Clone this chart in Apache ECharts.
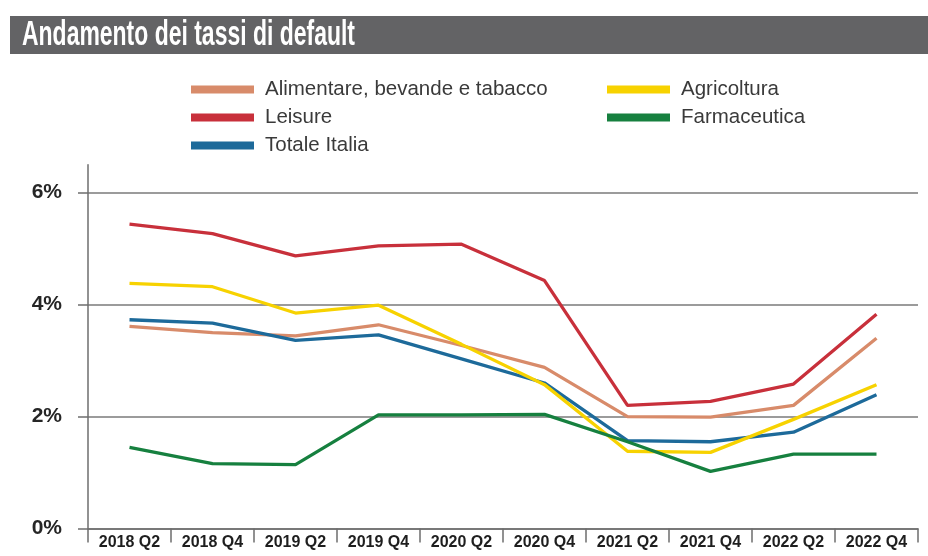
<!DOCTYPE html>
<html>
<head>
<meta charset="utf-8">
<script src="https://cdn.jsdelivr.net/npm/echarts/dist/echarts.min.js"></script>
<style>
html,body{margin:0;padding:0;background:#fff;}
#chart{width:928px;height:556px;}
</style>
</head>
<body>
<div id="chart"></div>
<script>
var titleText = 'Andamento dei tassi di default';
var categories = ['2018 Q2','2018 Q4','2019 Q2','2019 Q4','2020 Q2','2020 Q4','2021 Q2','2021 Q4','2022 Q2','2022 Q4'];
var yTicks = [0, 2, 4, 6];
var seriesNames = ['Alimentare, bevande e tabacco','Leisure','Totale Italia','Agricoltura','Farmaceutica'];
var alimentare   = [3.61, 3.50, 3.44, 3.64, 3.27, 2.88, 2.00, 1.99, 2.20, 3.40];
var leisure      = [5.44, 5.27, 4.87, 5.05, 5.08, 4.43, 2.20, 2.27, 2.58, 3.83];
var totale       = [3.73, 3.67, 3.36, 3.46, 3.03, 2.60, 1.57, 1.55, 1.72, 2.39];
var agricoltura  = [4.38, 4.32, 3.85, 3.99, 3.29, 2.57, 1.38, 1.36, 1.95, 2.57];
var farmaceutica = [1.45, 1.16, 1.14, 2.03, 2.03, 2.04, 1.55, 1.02, 1.33, 1.33];
var colors = ['#d88b6a','#c8303b','#1d6a9a','#f7d200','#16803f'];

var sans = '"Liberation Sans",Arial,sans-serif';
var chart = echarts.init(document.getElementById('chart'), null, {renderer:'canvas'});
var dataSets = [alimentare, leisure, totale, agricoltura, farmaceutica];
var series = dataSets.map(function(d, i){
  return {
    name: seriesNames[i], type:'line', data:d, symbol:'none',
    lineStyle:{width:3.3, color:colors[i]}, itemStyle:{color:colors[i]},
    z: 3, animation:false
  };
});
var legendCommon = {
  orient:'vertical', top:79, padding:0, icon:'rect', itemWidth:63, itemHeight:8, itemGap:7,
  textStyle:{fontFamily:sans, fontSize:20.5, lineHeight:20, color:'#3a3a3a', padding:[0,0,0,6]},
  selectedMode:false
};
chart.setOption({
  animation:false,
  color: colors,
  graphic:[
    {type:'rect', shape:{x:10, y:16, width:918, height:38}, style:{fill:'#636365'}, z:10},
    {type:'text', x:22, y:35.5, scaleX:0.82, scaleY:1.22, z:11,
     style:{text:titleText, fill:'#ffffff', fontSize:28, fontWeight:'bold', fontFamily:sans, verticalAlign:'middle', align:'left'}}
  ],
  legend:[
    Object.assign({left:191, data:seriesNames.slice(0,3)}, legendCommon),
    Object.assign({left:607, data:seriesNames.slice(3)}, legendCommon)
  ],
  grid:{left:88, right:10, top:164.7, bottom:27.5, containLabel:false},
  xAxis:{
    type:'category', data:categories, boundaryGap:true,
    axisLine:{show:true, lineStyle:{color:'#6e6e6e', width:1.5}},
    axisTick:{show:true, length:14, alignWithLabel:false, lineStyle:{color:'#6e6e6e', width:1.5}},
    axisLabel:{margin:6, fontFamily:sans, fontWeight:'bold', fontSize:16, color:'#1e1e1e', interval:0},
    splitLine:{show:false}
  },
  yAxis:{
    type:'value', min:0, max:6.5, interval:2,
    axisLine:{show:true, lineStyle:{color:'#6e6e6e', width:1.5}},
    axisTick:{show:true, length:10, customValues:yTicks, lineStyle:{color:'#6e6e6e', width:1.5}},
    axisLabel:{customValues:yTicks, margin:26, fontFamily:sans, fontWeight:'bold', fontSize:21, color:'#262626',
      formatter:function(v){ return (v % 2 === 0) ? v + '%' : ''; }},
    splitLine:{show:true, lineStyle:{color:['#7a7a7a','#7a7a7a','#7a7a7a','#7a7a7a','rgba(0,0,0,0)'], width:1.5}}
  },
  series: series
});
</script>
</body>
</html>
